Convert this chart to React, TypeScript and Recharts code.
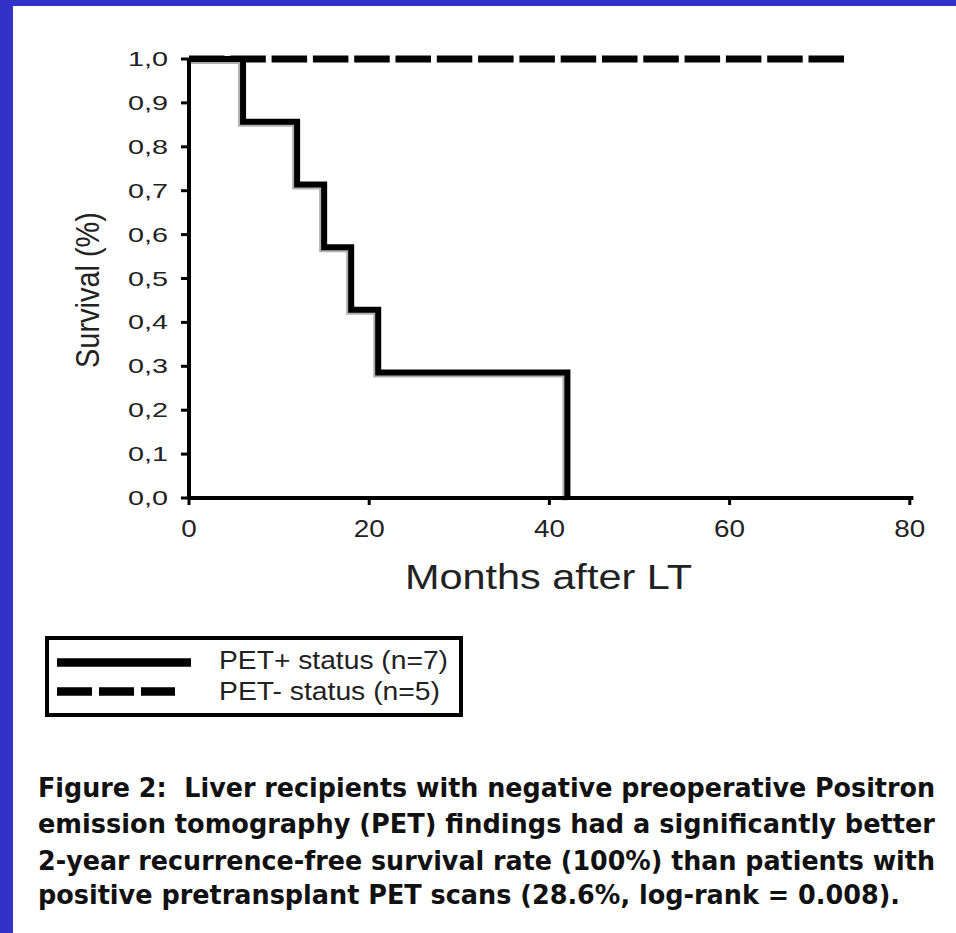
import React from 'react';
import { LineChart, Line, XAxis, YAxis, Legend, Label } from 'recharts';

// Kaplan-Meier steps
const petPosMonths = [0, 6, 12, 15, 18, 21, 42];
const petPosSurvival = [1.0, 0.857, 0.714, 0.571, 0.429, 0.286, 0.0];
const petNegMonths = [0, 72.7];
const petNegSurvival = [1.0, 1.0];

const xTicks = [0, 20, 40, 60, 80];
const yTicks = [0, 0.1, 0.2, 0.3, 0.4, 0.5, 0.6, 0.7, 0.8, 0.9, 1.0];

const seriesNames = ['PET+ status (n=7)', 'PET- status (n=5)'];
const xTitle = 'Months after LT';
const yTitle = 'Survival (%)';
const captionLines = [
  'Figure 2:  Liver recipients with negative preoperative Positron',
  'emission tomography (PET) findings had a significantly better',
  '2-year recurrence-free survival rate (100%) than patients with',
  'positive pretransplant PET scans (28.6%, log-rank = 0.008).',
];

const posData = petPosMonths.map((m, i) => ({ month: m, survival: petPosSurvival[i] }));
const negData = petNegMonths.map((m, i) => ({ month: m, survival: petNegSurvival[i] }));

const sans = "'Liberation Sans', Arial, sans-serif";
const blue = '#3232c8';

function YTick({ x, y, payload }: any) {
  return (
    <text x={x} y={y + 7} textAnchor="end" fontSize={21} fill="#222" fontFamily={sans}
      textLength={40} lengthAdjust="spacingAndGlyphs">
      {payload.value.toFixed(1).replace('.', ',')}
    </text>
  );
}

function XTick({ x, y, payload }: any) {
  const label = String(payload.value);
  return (
    <text x={x} y={y + 30} textAnchor="middle" fontSize={23} fill="#222" fontFamily={sans}
      textLength={label.length * 15.5} lengthAdjust="spacingAndGlyphs">
      {label}
    </text>
  );
}

function LegendBox() {
  return (
    <div style={{ width: 418, height: 81, boxSizing: 'border-box', border: '4px solid #000', background: '#fff' }}>
      <svg width={410} height={73} style={{ display: 'block' }}>
        <line x1={8} x2={142} y1={22.5} y2={22.5} stroke="#000" strokeWidth={8.5} />
        <line x1={8} x2={126} y1={51.5} y2={51.5} stroke="#000" strokeWidth={8.5} strokeDasharray="35 7" />
        <text x={170} y={29} fontSize={26} fill="#222" fontFamily={sans} textLength={229} lengthAdjust="spacingAndGlyphs">
          {seriesNames[0]}
        </text>
        <text x={170} y={60} fontSize={26} fill="#222" fontFamily={sans} textLength={221} lengthAdjust="spacingAndGlyphs">
          {seriesNames[1]}
        </text>
      </svg>
    </div>
  );
}

export default function App() {
  return (
    <div style={{ position: 'absolute', left: 0, top: 0, width: 956, height: 933, background: '#fff', overflow: 'hidden' }}>
      <style>{'.km-shadow{transform:translate(-2.5px,2.5px)}'}</style>
      <LineChart width={956} height={933} margin={{ top: 59, right: 42.6, bottom: 405, left: 89 }}>
        <XAxis
          dataKey="month"
          type="number"
          domain={[0, 80.4]}
          ticks={xTicks}
          allowDataOverflow
          height={30}
          axisLine={{ stroke: '#000', strokeWidth: 4 }}
          tickLine={{ stroke: '#000', strokeWidth: 3 }}
          tickSize={7}
          tick={<XTick />}
        >
          <Label
            content={() => (
              <text x={548.5} y={589} textAnchor="middle" fontSize={35} fill="#222" fontFamily={sans}
                textLength={287} lengthAdjust="spacingAndGlyphs">
                {xTitle}
              </text>
            )}
          />
        </XAxis>
        <YAxis
          type="number"
          domain={[0, 1]}
          ticks={yTicks}
          width={100}
          axisLine={{ stroke: '#000', strokeWidth: 4 }}
          tickLine={{ stroke: '#000', strokeWidth: 3 }}
          tickSize={8}
          tickMargin={13}
          tick={<YTick />}
        >
          <Label
            content={() => (
              <text x={99} y={290} transform="rotate(-90, 99, 290)" textAnchor="middle" fontSize={34} fill="#222"
                fontFamily={sans} textLength={156} lengthAdjust="spacingAndGlyphs">
                {yTitle}
              </text>
            )}
          />
        </YAxis>
        <Legend
          layout="horizontal"
          verticalAlign="middle"
          align="center"
          content={() => <LegendBox />}
          wrapperStyle={{ position: 'absolute', left: 45, top: 636, width: 418, height: 81 }}
        />
        <Line
          data={negData}
          dataKey="survival"
          name={seriesNames[1]}
          type="linear"
          stroke="#000"
          strokeWidth={7}
          strokeDasharray="35.5 5.8"
          dot={false}
          isAnimationActive={false}
        />
        <Line
          data={posData}
          dataKey="survival"
          className="km-shadow"
          legendType="none"
          type="stepAfter"
          stroke="#b0b0b0"
          strokeWidth={5}
          dot={false}
          isAnimationActive={false}
        />
        <Line
          data={posData}
          dataKey="survival"
          name={seriesNames[0]}
          type="stepAfter"
          stroke="#000"
          strokeWidth={6}
          dot={false}
          isAnimationActive={false}
        />
      </LineChart>
      <svg width={956} height={173} style={{ position: 'absolute', left: 0, top: 760 }}>
        {captionLines.map((line, i) => (
          <text
            key={i}
            x={38}
            y={[37, 73, 110, 144][i]}
            fontSize={27}
            fontWeight="bold"
            fill="#111"
            fontFamily="'DejaVu Sans Condensed', 'Liberation Sans Narrow', 'DejaVu Sans', sans-serif"
            textLength={i === 3 ? 862 : 897}
            lengthAdjust="spacingAndGlyphs"
            style={{ whiteSpace: 'pre' }}
          >
            {line}
          </text>
        ))}
      </svg>
      <div style={{ position: 'absolute', left: 0, top: 0, width: 956, height: 6, background: blue }} />
      <div style={{ position: 'absolute', left: 0, top: 0, width: 13, height: 933, background: blue }} />
    </div>
  );
}
